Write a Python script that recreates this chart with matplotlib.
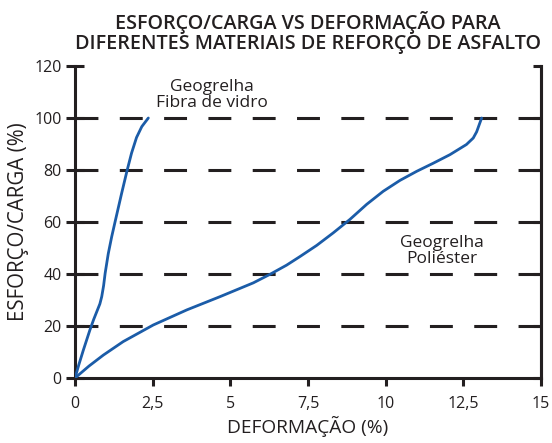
import matplotlib
matplotlib.use("Agg")
from matplotlib import pyplot

# curva geogrelha fibra de vidro (deformação %, esforço %)
fibra_x = [0, 0.12, 0.27, 0.48, 0.60, 0.70, 0.80, 0.86, 0.92, 0.97, 1.07, 1.18, 1.29, 1.50, 1.68, 1.82, 1.98, 2.15, 2.36]
fibra_y = [0, 5, 10.8, 18.5, 22.5, 25.5, 28.5, 31.3, 35.5, 40.3, 47.8, 54.3, 60.1, 71, 80, 86.5, 92.5, 96.7, 100]

# curva geogrelha poliéster
poli_x = [0, 0.45, 0.91, 1.55, 2.52, 3.6, 4.67, 5.74, 6.28, 6.81, 7.24, 7.78, 8.31, 8.85, 9.39, 9.92, 10.46, 11.0, 11.53, 12.07, 12.6, 12.82, 12.93, 13.09]
poli_y = [0, 4.6, 8.8, 14, 20.4, 26.2, 31.3, 36.6, 39.9, 43.4, 46.7, 51.0, 55.8, 61.0, 66.8, 71.8, 76.0, 79.5, 82.6, 85.9, 89.8, 92.3, 94.7, 100]

x_ticks = [0, 2.5, 5, 7.5, 10, 12.5, 15]
x_tick_labels = ["0", "2,5", "5", "7,5", "10", "12,5", "15"]
y_ticks = [0, 20, 40, 60, 80, 100, 120]
grid_levels = [20, 40, 60, 80, 100]

dark = "#231f20"
blue = "#1b5ca8"

pyplot.rcParams["font.family"] = ["Open Sans", "DejaVu Sans"]

fig = pyplot.figure(figsize=(5.52, 4.43), dpi=100)
ax = fig.add_axes([0.1359, 0.1467, 0.8441, 0.7043])

for level in grid_levels:
    ax.axhline(level, color=dark, lw=2.2, dashes=(7.5, 7.0), zorder=1)

ax.plot(fibra_x, fibra_y, color=blue, lw=2.0, solid_capstyle="round",
        solid_joinstyle="round", zorder=3)
ax.plot(poli_x, poli_y, color=blue, lw=2.0, solid_capstyle="round",
        solid_joinstyle="round", zorder=3)

ax.set_xlim(0, 15)
ax.set_ylim(0, 120)
ax.set_xticks(x_ticks)
ax.set_xticklabels(x_tick_labels)
ax.set_yticks(y_ticks)

for side in ["left", "bottom", "right"]:
    ax.spines[side].set_color(dark)
    ax.spines[side].set_linewidth(2.2)
ax.spines["top"].set_visible(False)

ax.tick_params(axis="x", direction="out", length=6, width=2.2, color=dark,
               labelsize=11.5, labelcolor=dark, pad=7)
ax.tick_params(axis="y", direction="inout", length=13, width=2.2, color=dark,
               labelsize=11.5, labelcolor=dark, pad=3, right=False)

# ticks do lado direito, voltados para dentro
right = ax.secondary_yaxis("right")
right.set_yticks(y_ticks)
right.tick_params(direction="in", length=6, width=2.2, color=dark, labelright=False)
right.spines["right"].set_color(dark)
right.spines["right"].set_linewidth(2.2)

ax.set_xlabel("DEFORMAÇÃO (%)", fontsize=13.8, color=dark, labelpad=3)
ax.set_ylabel("ESFORÇO/CARGA (%)", fontsize=14.8, color=dark, labelpad=4)
ax.set_title("ESFORÇO/CARGA VS DEFORMAÇÃO PARA\nDIFERENTES MATERIAIS DE REFORÇO DE ASFALTO",
             fontsize=14.2, color=dark, fontweight="semibold", pad=12, linespacing=1.0)

ax.text(4.4, 109, "Geogrelha\nFibra de vidro", ha="center", va="center",
        fontsize=12.5, color=dark, linespacing=1.0)
ax.text(11.8, 48.8, "Geogrelha\nPoliéster", ha="center", va="center",
        fontsize=12.5, color=dark, linespacing=1.0)

fig.savefig("out.png", dpi=100)
